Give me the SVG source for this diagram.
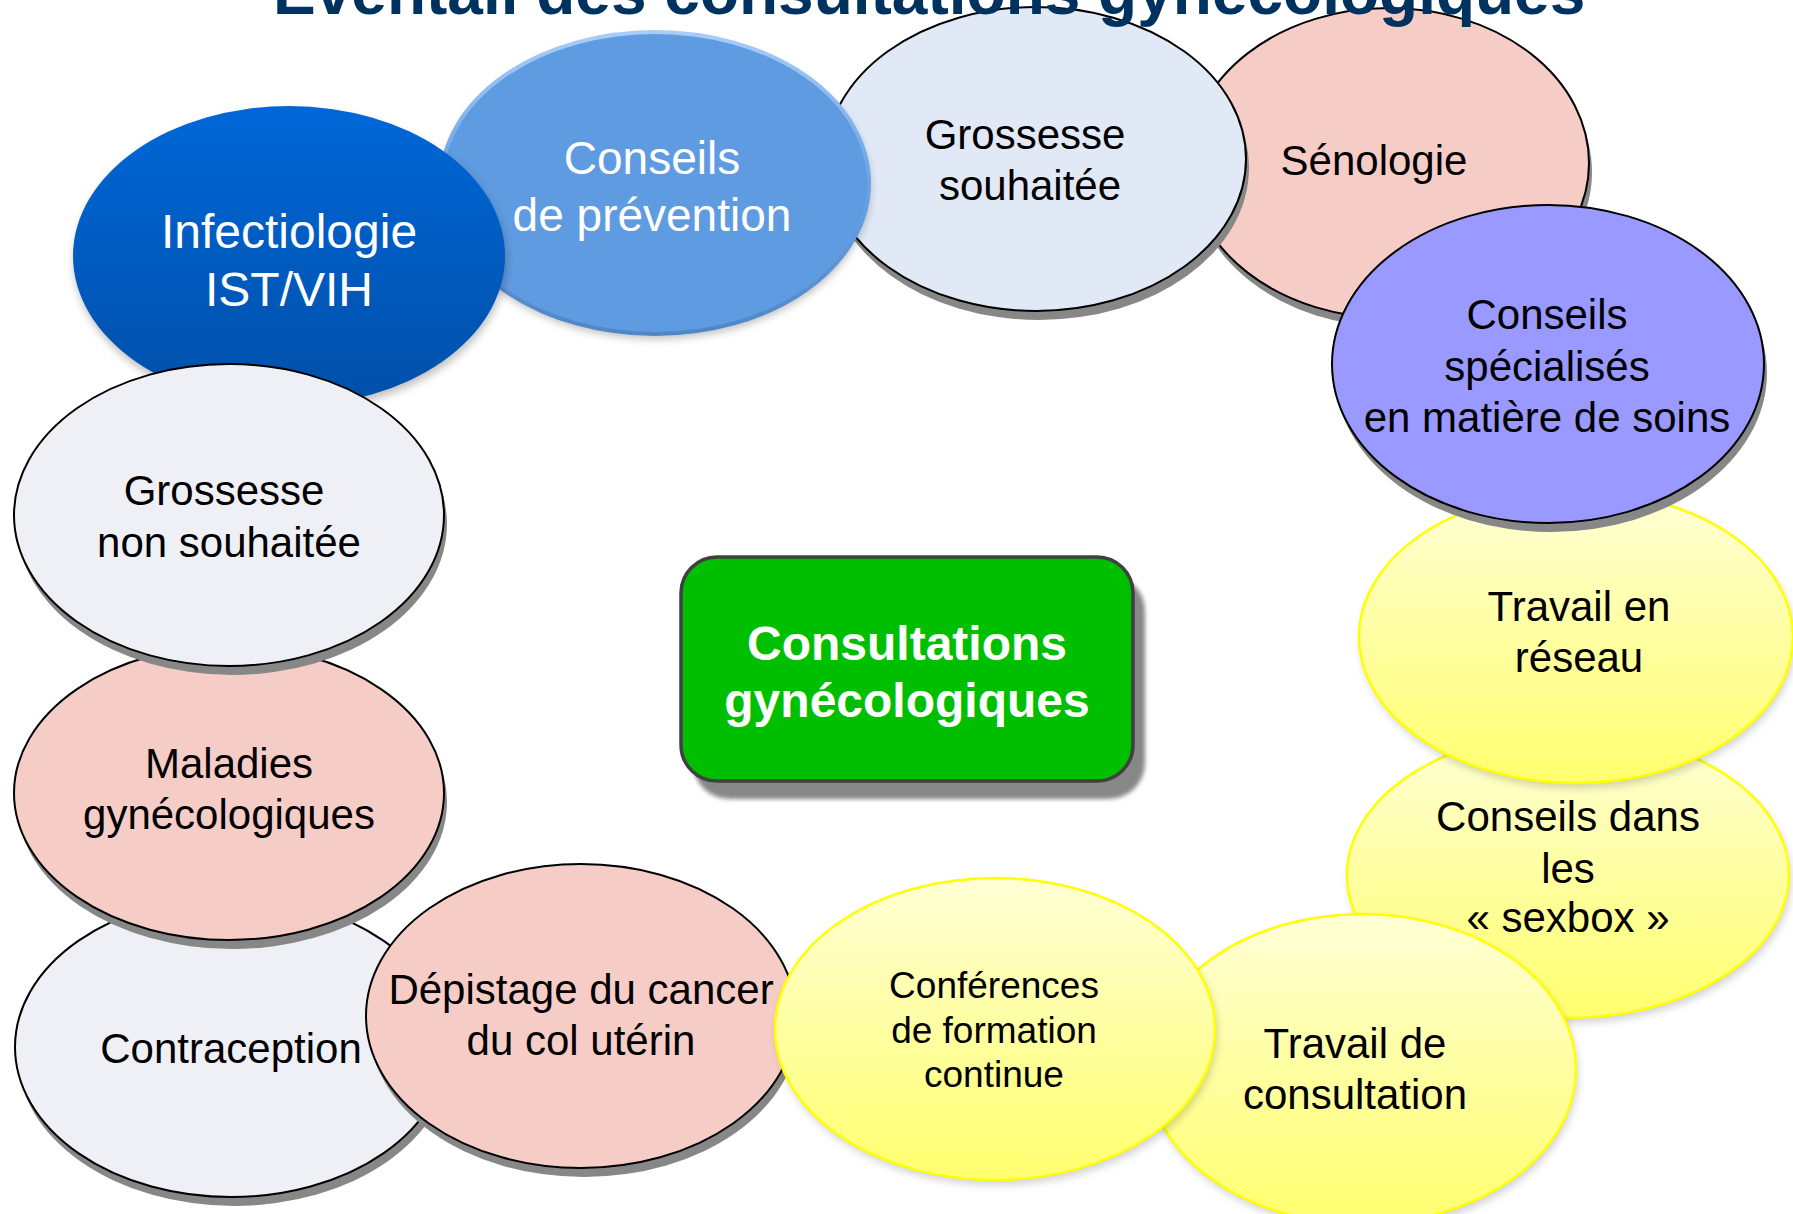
<svg xmlns="http://www.w3.org/2000/svg" width="1793" height="1214" viewBox="0 0 1793 1214">
<style>
  .t { font-family: "Liberation Sans", Arial, sans-serif; font-size: 42px; fill: #000; text-anchor: middle; }
  .w { fill: #fff; }
  .sh { fill: #878787; }
  .k { stroke: #000; stroke-width: 2; }
  .pink { fill: #f6cdc6; }
  .pale { fill: #eff0f6; }
  .paleblue { fill: #e1e9f6; }
  .yel { fill: url(#gYel); stroke: #ffff00; stroke-width: 2.5; }
</style>
<defs>
  <linearGradient id="gYel" x1="0" y1="0" x2="0" y2="1">
    <stop offset="0" stop-color="#ffffd6"/>
    <stop offset="1" stop-color="#ffff6e"/>
  </linearGradient>
  <linearGradient id="gDark" x1="0" y1="0" x2="0" y2="1">
    <stop offset="0" stop-color="#0067d8"/>
    <stop offset="1" stop-color="#004fa8"/>
  </linearGradient>
  <linearGradient id="gBevel" x1="0" y1="0" x2="0" y2="1">
    <stop offset="0" stop-color="#a8cdf7"/>
    <stop offset="0.5" stop-color="#6aa3e4"/>
    <stop offset="1" stop-color="#4f86c8"/>
  </linearGradient>
  <filter id="soft" x="-20%" y="-20%" width="140%" height="140%">
    <feGaussianBlur stdDeviation="4"/>
  </filter>
  <filter id="soft2" x="-20%" y="-20%" width="140%" height="140%">
    <feGaussianBlur stdDeviation="2"/>
  </filter>
</defs>

<g id="connectors"></g>

<g id="contraception">
  <ellipse class="sh" cx="234" cy="1056" rx="216" ry="150"/>
  <ellipse class="pale k" cx="231" cy="1047" rx="216" ry="150"/>
  <text class="t" x="231" y="1063">Contraception</text>
</g>

<g id="maladies">
  <ellipse class="sh" cx="232" cy="802" rx="215" ry="147"/>
  <ellipse class="pink k" cx="229" cy="793" rx="215" ry="147"/>
  <text class="t" x="229" y="778">Maladies</text>
  <text class="t" x="229" y="829">gynécologiques</text>
</g>

<g id="depistage">
  <ellipse class="sh" cx="584" cy="1025" rx="215" ry="152"/>
  <ellipse class="pink k" cx="581" cy="1016" rx="215" ry="152"/>
  <text class="t" x="581" y="1004">Dépistage du cancer</text>
  <text class="t" x="581" y="1055">du col utérin</text>
</g>

<g id="sexbox">
  <ellipse cx="1570" cy="880" rx="221" ry="143" fill="#000" opacity="0.18" filter="url(#soft)"/>
  <ellipse class="yel" cx="1568" cy="875" rx="221" ry="143"/>
  <text class="t" x="1568" y="831">Conseils dans</text>
  <text class="t" x="1568" y="883">les</text>
  <text class="t" x="1568" y="932">« sexbox »</text>
</g>

<g id="travail-consultation">
  <ellipse cx="1364" cy="1074" rx="214" ry="155" fill="#000" opacity="0.18" filter="url(#soft)"/>
  <ellipse class="yel" cx="1362" cy="1069" rx="214" ry="155"/>
  <text class="t" x="1355" y="1058">Travail de</text>
  <text class="t" x="1355" y="1109">consultation</text>
</g>

<g id="conferences">
  <ellipse cx="997" cy="1034" rx="220" ry="151" fill="#000" opacity="0.18" filter="url(#soft)"/>
  <ellipse class="yel" cx="995" cy="1029" rx="220" ry="151"/>
  <text class="t" x="994" y="998" style="font-size:37px">Conférences</text>
  <text class="t" x="994" y="1043" style="font-size:37px">de formation</text>
  <text class="t" x="994" y="1087" style="font-size:37px">continue</text>
</g>

<g id="reseau">
  <ellipse cx="1578" cy="642" rx="217" ry="146" fill="#000" opacity="0.18" filter="url(#soft)"/>
  <ellipse class="yel" cx="1576" cy="637" rx="217" ry="146"/>
  <text class="t" x="1579" y="621">Travail en</text>
  <text class="t" x="1579" y="672">réseau</text>
</g>

<g id="senologie">
  <ellipse class="sh" cx="1392" cy="172" rx="200" ry="155"/>
  <ellipse class="pink k" cx="1389" cy="163" rx="200" ry="155"/>
  <text class="t" x="1374" y="175">Sénologie</text>
</g>

<g id="conseils-specialises">
  <ellipse class="sh" cx="1551" cy="373" rx="216" ry="159"/>
  <ellipse class="k" fill="#9999ff" cx="1548" cy="364" rx="216" ry="159"/>
  <text class="t" x="1547" y="329">Conseils</text>
  <text class="t" x="1547" y="381">spécialisés</text>
  <text class="t" x="1547" y="432">en matière de soins</text>
</g>

<g id="grossesse-souhaitee">
  <ellipse class="sh" cx="1039" cy="168" rx="210" ry="152"/>
  <ellipse class="paleblue k" cx="1036" cy="159" rx="210" ry="152"/>
  <text class="t" x="1025" y="149">Grossesse</text>
  <text class="t" x="1030" y="200">souhaitée</text>
</g>

<g id="conseils-prevention">
  <ellipse cx="656" cy="188" rx="214" ry="151" fill="#000" opacity="0.25" filter="url(#soft)"/>
  <ellipse cx="655" cy="183" rx="214" ry="151" fill="#5f9be0" stroke="url(#gBevel)" stroke-width="4"/>
  <text class="t w" x="652" y="174" style="font-size:46px">Conseils</text>
  <text class="t w" x="652" y="231" style="font-size:46px">de prévention</text>
</g>

<g id="infectiologie">
  <ellipse cx="290" cy="261" rx="216" ry="150" fill="#000" opacity="0.25" filter="url(#soft)"/>
  <ellipse cx="289" cy="256" rx="216" ry="150" fill="url(#gDark)"/>
  <text class="t w" x="289" y="248" style="font-size:48px">Infectiologie</text>
  <text class="t w" x="289" y="306" style="font-size:48px">IST/VIH</text>
</g>

<g id="grossesse-non-souhaitee">
  <ellipse class="sh" cx="232" cy="524" rx="215" ry="151"/>
  <ellipse class="pale k" cx="229" cy="515" rx="215" ry="151"/>
  <text class="t" x="224" y="505">Grossesse</text>
  <text class="t" x="229" y="557">non souhaitée</text>
</g>

<g id="consultations-gynecologiques">
  <rect x="693" y="575" width="452" height="224" rx="36" fill="#878787" filter="url(#soft2)"/>
  <rect x="681" y="557" width="452" height="224" rx="36" fill="#00bf00" stroke="#404040" stroke-width="3.5"/>
  <text class="t w" x="907" y="660" style="font-size:48px;font-weight:bold">Consultations</text>
  <text class="t w" x="907" y="717" style="font-size:48px;font-weight:bold">gynécologiques</text>
</g>

<g id="title">
  <text x="273" y="14" style="font-family:'Liberation Sans', Arial, sans-serif;font-size:64px;font-weight:bold;fill:#00325f">Eventail des consultations gynécologiques</text>
</g>
</svg>
